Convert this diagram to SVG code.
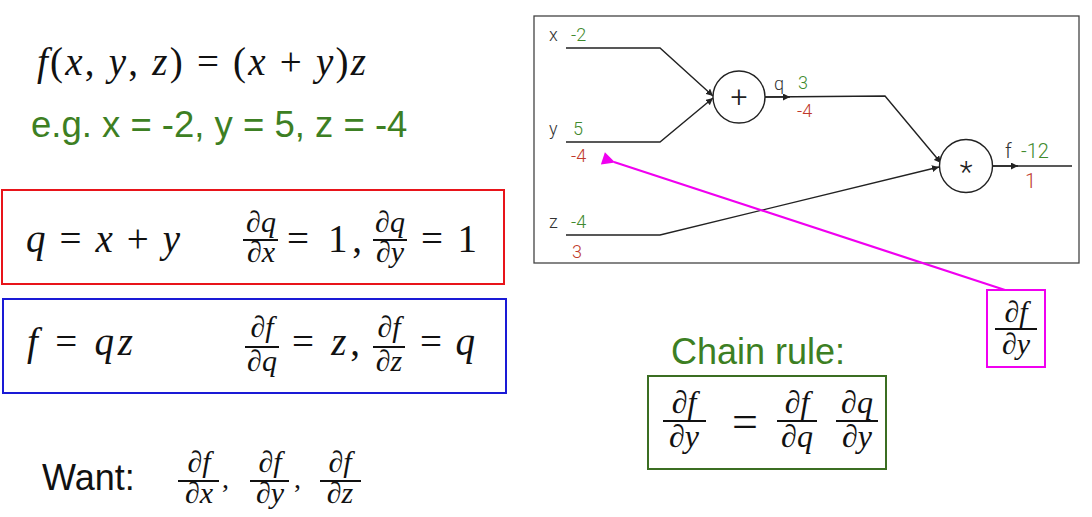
<svg xmlns="http://www.w3.org/2000/svg" width="1092" height="517" viewBox="0 0 1092 517">
<style>
.m{font-family:"Liberation Serif","DejaVu Serif",serif;fill:#111}
.i{font-style:italic}
.s{font-family:"Liberation Sans",Arial,sans-serif}
.gl{font-family:Roboto,"Liberation Sans",sans-serif;font-size:18px;font-weight:300}
.big{font-size:20px}
.op{font-size:30px;fill:#222}
.lb{fill:#333}
.gv{fill:#3f8a2e}
.rv{fill:#c0392b}
.wire{fill:none;stroke:#222;stroke-width:1.4}
.bar{stroke:#111;stroke-width:2}
.fr{font-size:30px}
</style>
<defs>
<marker id="ah" viewBox="0 0 10 10" refX="10" refY="5" markerWidth="7" markerHeight="7" markerUnits="userSpaceOnUse" orient="auto"><path d="M0,0 L10,5 L0,10 z" fill="#222"/></marker>
<marker id="mh" viewBox="0 0 10 10" refX="1" refY="5" markerWidth="17" markerHeight="13" markerUnits="userSpaceOnUse" orient="auto"><path d="M0,5 L10,0 L10,10 z" fill="#f000f0"/></marker>
</defs>

<g id="eq-main">
<text class="m i" x="37" y="75" font-size="39" textLength="329" lengthAdjust="spacing">f<tspan font-style="normal">(</tspan>x<tspan font-style="normal">,</tspan> y<tspan font-style="normal">,</tspan> z<tspan font-style="normal">) = (</tspan>x <tspan font-style="normal">+</tspan> y<tspan font-style="normal">)</tspan>z</text>
<text class="s" x="31" y="137" font-size="36.5" fill="#3d7f23">e.g. x = -2, y = 5, z = -4</text>
</g>

<g id="box-q">
<rect x="2" y="190" width="502" height="94" fill="none" stroke="#e8141a" stroke-width="2"/>
<text class="m i" x="26" y="252" font-size="39" textLength="154" lengthAdjust="spacing">q <tspan font-style="normal">=</tspan> x <tspan font-style="normal">+</tspan> y</text>
<text class="m i fr" x="261" y="232" text-anchor="middle">∂q</text>
<line class="bar" x1="243" y1="240" x2="278" y2="240"/>
<text class="m i fr" x="261" y="262" text-anchor="middle">∂x</text>
<text class="m" x="287" y="252" font-size="39" textLength="75" lengthAdjust="spacing">= 1,</text>
<text class="m i fr" x="390" y="232" text-anchor="middle">∂q</text>
<line class="bar" x1="373" y1="240" x2="407" y2="240"/>
<text class="m i fr" x="390" y="262" text-anchor="middle">∂y</text>
<text class="m" x="421" y="252" font-size="39" textLength="56" lengthAdjust="spacing">= 1</text>
</g>

<g id="box-f">
<rect x="3" y="299" width="503" height="94" fill="none" stroke="#1a1ad6" stroke-width="2"/>
<text class="m i" x="27" y="355" font-size="39" textLength="106" lengthAdjust="spacing">f <tspan font-style="normal">=</tspan> qz</text>
<text class="m i fr" x="262" y="337" text-anchor="middle">∂f</text>
<line class="bar" x1="245" y1="347" x2="279" y2="347"/>
<text class="m i fr" x="262" y="371" text-anchor="middle">∂q</text>
<text class="m" x="292" y="355" font-size="39" textLength="68" lengthAdjust="spacing">= <tspan font-style="italic">z</tspan>,</text>
<text class="m i fr" x="389" y="337" text-anchor="middle">∂f</text>
<line class="bar" x1="373" y1="347" x2="405" y2="347"/>
<text class="m i fr" x="389" y="371" text-anchor="middle">∂z</text>
<text class="m" x="420" y="355" font-size="39" textLength="55" lengthAdjust="spacing">= <tspan font-style="italic">q</tspan></text>
</g>

<g id="want">
<text class="s" x="42" y="490" font-size="36" fill="#111">Want:</text>
<text class="m i fr" x="199" y="472" text-anchor="middle">∂f</text>
<line class="bar" x1="178" y1="481" x2="219" y2="481"/>
<text class="m i fr" x="199" y="503" text-anchor="middle">∂x</text>
<text class="m" x="222" y="488" font-size="28">,</text>
<text class="m i fr" x="270" y="472" text-anchor="middle">∂f</text>
<line class="bar" x1="250" y1="481" x2="289" y2="481"/>
<text class="m i fr" x="270" y="503" text-anchor="middle">∂y</text>
<text class="m" x="294" y="488" font-size="28">,</text>
<text class="m i fr" x="340" y="472" text-anchor="middle">∂f</text>
<line class="bar" x1="320" y1="481" x2="361" y2="481"/>
<text class="m i fr" x="340" y="503" text-anchor="middle">∂z</text>
</g>

<g id="graph-frame">
<rect x="534" y="16" width="545" height="247" fill="#fff" stroke="#444" stroke-width="1.3"/>
</g>

<g id="connectors">
<polyline class="wire" points="566,48 660,48 713,96" marker-end="url(#ah)"/>
<polyline class="wire" points="566,142 660,142 713,98" marker-end="url(#ah)"/>
<polyline class="wire" points="566,235 660,235 939,167" marker-end="url(#ah)"/>
<polyline class="wire" points="765,97 885,96 941,163" marker-end="url(#ah)"/>
<line class="wire" x1="765" y1="97" x2="790" y2="97" marker-end="url(#ah)"/>
<line class="wire" x1="993" y1="166" x2="1072" y2="166"/>
<line class="wire" x1="993" y1="166" x2="1018" y2="166" marker-end="url(#ah)"/>
<line x1="1005" y1="290" x2="614" y2="162" stroke="#f000f0" stroke-width="2.2" marker-end="url(#mh)"/>
</g>

<g id="node-add">
<circle cx="739" cy="97" r="26" fill="#fff" stroke="#222" stroke-width="1.4"/>
<text class="gl op" x="739" y="107" text-anchor="middle">+</text>
</g>

<g id="node-mul">
<circle cx="966" cy="166" r="26.5" fill="#fff" stroke="#222" stroke-width="1.4"/>
<text class="gl op" x="966" y="182" text-anchor="middle">*</text>
</g>

<g id="labels">
<text class="gl lb" x="549" y="41">x</text><text class="gl gv" x="571" y="41">-2</text>
<text class="gl lb" x="549" y="135">y</text><text class="gl gv" x="573" y="135">5</text><text class="gl rv" x="571" y="162">-4</text>
<text class="gl lb" x="549" y="228">z</text><text class="gl gv" x="571" y="228">-4</text><text class="gl rv" x="572" y="258">3</text>
<text class="gl lb" x="774" y="90">q</text><text class="gl gv" x="798" y="89">3</text><text class="gl rv" x="797" y="117">-4</text>
<text class="gl big lb" x="1005" y="158">f</text><text class="gl big gv" x="1021" y="158">-12</text><text class="gl big rv" x="1025" y="188">1</text>
</g>

<g id="callout-dfdy">
<rect x="987" y="290" width="58" height="77" fill="none" stroke="#f000f0" stroke-width="2"/>
<text class="m i" x="1016" y="322" font-size="30" text-anchor="middle">∂f</text>
<line class="bar" x1="995" y1="329" x2="1037" y2="329"/>
<text class="m i" x="1016" y="354" font-size="30" text-anchor="middle">∂y</text>
</g>

<g id="chain-rule">
<text class="s" x="671" y="364" font-size="36" fill="#3d7f23">Chain rule:</text>
<rect x="648" y="376" width="238" height="93" fill="none" stroke="#3b6e22" stroke-width="2"/>
<text class="m i" x="684" y="413" font-size="32" text-anchor="middle">∂f</text>
<line class="bar" x1="663" y1="421" x2="706" y2="421"/>
<text class="m i" x="684" y="447" font-size="32" text-anchor="middle">∂y</text>
<text class="m" x="745" y="437" font-size="46" text-anchor="middle">=</text>
<text class="m i" x="797" y="413" font-size="32" text-anchor="middle">∂f</text>
<line class="bar" x1="777" y1="421" x2="817" y2="421"/>
<text class="m i" x="797" y="447" font-size="32" text-anchor="middle">∂q</text>
<text class="m i" x="857" y="413" font-size="32" text-anchor="middle">∂q</text>
<line class="bar" x1="836" y1="421" x2="878" y2="421"/>
<text class="m i" x="857" y="447" font-size="32" text-anchor="middle">∂y</text>
</g>
</svg>
